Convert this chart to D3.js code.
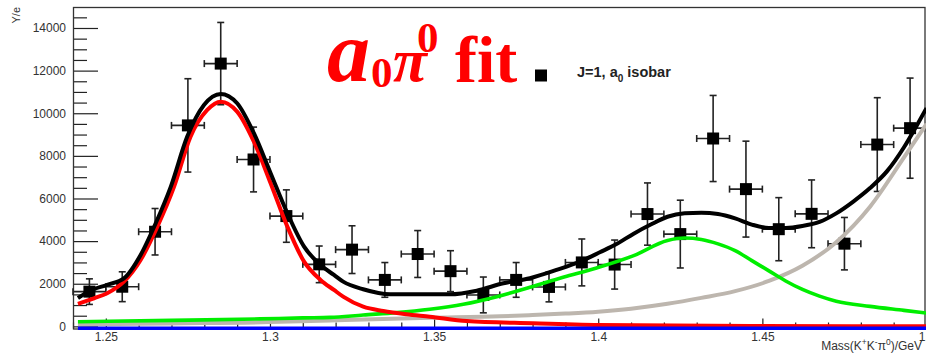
<!DOCTYPE html>
<html>
<head>
<meta charset="utf-8">
<script src="https://cdn.jsdelivr.net/npm/d3@7"></script>
<style>
  body { margin: 0; background: #fff; }
  svg { display: block; }
  .tick text { font-family: "Liberation Sans", Arial, sans-serif; font-size: 12px; fill: #333; }
  .tick line { stroke: #222; stroke-width: 1.2; }
</style>
</head>
<body>
<svg id="chart" width="926" height="359"></svg>
<script>

// data

var binCenters = [1.245, 1.255, 1.265, 1.275, 1.285, 1.295, 1.305, 1.315, 1.325, 1.335, 1.345, 1.355, 1.365,
                  1.375, 1.385, 1.395, 1.405, 1.415, 1.425, 1.435, 1.445, 1.455, 1.465, 1.475, 1.485, 1.495];
var counts = [1630, 1860, 4440, 9430, 12330, 7830, 5175, 2910, 3600, 2180, 3395, 2590, 1475,
              2180, 1850, 3000, 2900, 5270, 4330, 8815, 6440, 4560, 5280, 3880, 8530, 9300];
var errors = [600, 700, 1090, 2190, 1930, 1520, 1230, 860, 1120, 815, 1100, 960, 840,
              815, 700, 1100, 1150, 1460, 1590, 2020, 2250, 1480, 1590, 1230, 2200, 2350];
var binHalfWidth = 0.005;

// fit curves: [mass, value]
var totalFit = [[1.2415, 1330], [1.2449, 1650], [1.2504, 1950], [1.2555, 2250], [1.2606, 3350], [1.2652, 4838],
  [1.2698, 6556], [1.2748, 8903], [1.2799, 10390], [1.2850, 10906], [1.2900, 10470], [1.2951, 9062],
  [1.3002, 7185], [1.3053, 5308], [1.3104, 3740], [1.3154, 2881], [1.3195, 2412], [1.3223, 2098],
  [1.3284, 1742], [1.3366, 1506], [1.3548, 1506], [1.3630, 1675], [1.3711, 2023], [1.3792, 2257],
  [1.3873, 2647], [1.3944, 3036], [1.4005, 3478], [1.4057, 3872], [1.4108, 4350], [1.4160, 4777],
  [1.4211, 5143], [1.4263, 5303], [1.4314, 5331], [1.4365, 5270], [1.4417, 5064], [1.4468, 4777],
  [1.4520, 4618], [1.4571, 4618], [1.4622, 4712], [1.4674, 4904], [1.4725, 5303], [1.4777, 5857],
  [1.4828, 6490], [1.4880, 7283], [1.4931, 8391], [1.4973, 9500], [1.5, 10240]];

var a0Fit = [[1.2415, 1060], [1.2464, 1319], [1.2504, 1553], [1.2555, 2098], [1.2606, 3116], [1.2657, 4679],
  [1.2708, 6556], [1.2758, 8903], [1.2809, 10156], [1.2850, 10545], [1.2900, 10076], [1.2951, 8668],
  [1.3002, 6716], [1.3053, 4679], [1.3104, 3036], [1.3154, 2178], [1.3195, 1708], [1.3223, 1394],
  [1.3284, 925], [1.3345, 723], [1.3416, 568], [1.3487, 455], [1.3599, 253], [1.3801, 145],
  [1.4005, 66], [1.4462, 19], [1.5, 0]];

var greenFit = [[1.2415, 220], [1.27, 280], [1.297, 350], [1.31, 400], [1.3183, 420], [1.3284, 535],
  [1.3386, 643], [1.3487, 802], [1.3589, 1037], [1.3691, 1394], [1.3792, 1835], [1.3893, 2304],
  [1.3995, 2740], [1.4108, 3318], [1.4211, 4030], [1.4263, 4143], [1.4314, 4078], [1.4365, 3872],
  [1.4417, 3557], [1.4468, 3083], [1.4520, 2605], [1.4571, 2130], [1.4622, 1732], [1.4674, 1417],
  [1.4725, 1178], [1.4828, 939], [1.4931, 751], [1.5, 624]];

var grayFit = [[1.2415, 90], [1.27, 140], [1.30, 200], [1.3183, 280], [1.3487, 400], [1.37, 470],
  [1.38, 530], [1.39, 600], [1.40, 690], [1.41, 830], [1.4211, 1060], [1.4314, 1337], [1.4417, 1652],
  [1.4520, 2130], [1.4622, 2844], [1.4725, 3952], [1.4828, 5618], [1.4931, 7917], [1.5, 9500]];

var blueFit = [[1.2415, -90], [1.37, -90], [1.5, -90]];

var xMajorTicks = [1.25, 1.3, 1.35, 1.4, 1.45, 1.5];
var xMinorTicks = [1.24, 1.26, 1.27, 1.28, 1.29, 1.31, 1.32, 1.33, 1.34, 1.36, 1.37, 1.38, 1.39,
                   1.41, 1.42, 1.43, 1.44, 1.46, 1.47, 1.48, 1.49];
var yMajorTicks = [0, 2000, 4000, 6000, 8000, 10000, 12000, 14000];
var yMinorTicks = [500, 1000, 1500, 2500, 3000, 3500, 4500, 5000, 5500, 6500, 7000, 7500, 8500, 9000, 9500,
                   10500, 11000, 11500, 12500, 13000, 13500, 14500];

//SVG setup

var svg = d3.select("svg#chart"),
    plotL = 73, plotR = 926.5, plotT = 7, plotB = 328.5;

var x = d3.scaleLinear()
    .domain([1.24, 1.5])
    .range([plotL, plotR]);

var y = d3.scaleLinear()
    .domain([-100, 14985])
    .range([plotB, plotT]);

//axes

svg.append("g")
    .attr("class", "axisy")
    .attr("transform", "translate(" + plotL + ",0)")
    .call(d3.axisLeft(y).tickValues(yMinorTicks).tickSizeInner(-14).tickSizeOuter(0).tickFormat(""))
    .call(function(g) { g.select(".domain").remove(); });

svg.append("g")
    .attr("class", "axisy")
    .attr("transform", "translate(" + plotL + ",0)")
    .call(d3.axisLeft(y).tickValues(yMajorTicks).tickSizeInner(-25).tickSizeOuter(0).tickPadding(7)
        .tickFormat(d3.format("d")))
    .call(function(g) { g.select(".domain").remove(); });

svg.append("g")
    .attr("class", "axisx")
    .attr("transform", "translate(0," + plotB + ")")
    .call(d3.axisBottom(x).tickValues(xMinorTicks).tickSizeInner(-6).tickSizeOuter(0).tickFormat(""))
    .call(function(g) { g.select(".domain").remove(); });

svg.append("g")
    .attr("class", "axisx")
    .attr("transform", "translate(0," + plotB + ")")
    .call(d3.axisBottom(x).tickValues(xMajorTicks).tickSizeInner(-10).tickSizeOuter(0).tickPadding(3.5)
        .tickFormat(function(d) { return d3.format("")(d); }))
    .call(function(g) { g.select(".domain").remove(); });

//frame

svg.append("rect")
    .attr("x", plotL + 0.5)
    .attr("y", plotT + 0.5)
    .attr("width", 925 - plotL - 0.5)
    .attr("height", plotB - plotT)
    .attr("fill", "none")
    .attr("stroke", "#333")
    .attr("stroke-width", 1.3);

//data points with error bars

var pts = svg.append("g").attr("class", "points");

var pt = pts.selectAll("g")
  .data(binCenters)
  .enter().append("g");

pt.append("line")
    .attr("x1", function(d) { return x(d - binHalfWidth); })
    .attr("x2", function(d) { return x(d + binHalfWidth); })
    .attr("y1", function(d, i) { return y(counts[i]); })
    .attr("y2", function(d, i) { return y(counts[i]); });

pt.append("line")
    .attr("x1", function(d) { return x(d); })
    .attr("x2", function(d) { return x(d); })
    .attr("y1", function(d, i) { return y(counts[i] - errors[i]); })
    .attr("y2", function(d, i) { return y(counts[i] + errors[i]); });

// end caps
[-1, 1].forEach(function(s) {
  pt.append("line")
      .attr("x1", function(d) { return x(d + s * binHalfWidth); })
      .attr("x2", function(d) { return x(d + s * binHalfWidth); })
      .attr("y1", function(d, i) { return y(counts[i]) - 3.5; })
      .attr("y2", function(d, i) { return y(counts[i]) + 3.5; });
  pt.append("line")
      .attr("x1", function(d) { return x(d) - 3.5; })
      .attr("x2", function(d) { return x(d) + 3.5; })
      .attr("y1", function(d, i) { return y(counts[i] + s * errors[i]); })
      .attr("y2", function(d, i) { return y(counts[i] + s * errors[i]); });
});

pt.selectAll("line")
    .attr("stroke", "#222")
    .attr("stroke-width", 1.6);

pt.append("rect")
    .attr("x", function(d) { return x(d) - 6; })
    .attr("y", function(d, i) { return y(counts[i]) - 6; })
    .attr("width", 12)
    .attr("height", 12)
    .attr("fill", "#000");

//fit curves

var line = d3.line()
    .x(function(d) { return x(d[0]); })
    .y(function(d) { return y(d[1]); })
    .curve(d3.curveMonotoneX);

function drawCurve(data, color, w) {
  svg.append("path")
      .attr("d", line(data))
      .attr("fill", "none")
      .attr("stroke", color)
      .attr("stroke-width", w);
}

drawCurve(grayFit, "#bdb6ae", 4);
drawCurve(greenFit, "#00ee00", 3.6);
drawCurve(a0Fit, "#ff0000", 4);
drawCurve(totalFit, "#000", 4);
drawCurve(blueFit, "#0000ff", 3.6);

//axis titles

svg.append("text")
    .attr("transform", "translate(20," + plotT + ") rotate(-90)")
    .attr("text-anchor", "end")
    .attr("font-family", "Liberation Sans, Arial, sans-serif")
    .attr("font-size", "11px")
    .attr("fill", "#333")
    .text("Y/e");

var xt = svg.append("text")
    .attr("x", 922)
    .attr("y", 349.5)
    .attr("text-anchor", "end")
    .attr("font-family", "Liberation Sans, Arial, sans-serif")
    .attr("font-size", "12px")
    .attr("fill", "#333");
xt.append("tspan").text("Mass(K");
xt.append("tspan").attr("dy", -4.5).attr("font-size", "8.5px").text("+");
xt.append("tspan").attr("dy", 4.5).text("K");
xt.append("tspan").attr("dy", -4.5).attr("font-size", "8.5px").text("-");
xt.append("tspan").attr("dy", 4.5).text("\u03c0");
xt.append("tspan").attr("dy", -4.5).attr("font-size", "8.5px").text("0");
xt.append("tspan").attr("dy", 4.5).text(")/GeV");

//big red label

var serif = "Liberation Serif, Times New Roman, serif";
var title = svg.append("g").attr("fill", "#ff0000").attr("font-family", serif).attr("font-weight", "bold");
title.append("text").attr("x", 327).attr("y", 81).attr("font-size", "86px").attr("font-style", "italic").text("a");
title.append("text").attr("x", 371).attr("y", 86.5).attr("font-size", "43px").text("0");
title.append("text").attr("x", 393).attr("y", 81).attr("font-size", "62px").attr("font-style", "italic").text("\u03c0");
title.append("text").attr("x", 417).attr("y", 52).attr("font-size", "43px").text("0");
title.append("text").attr("x", 455).attr("y", 81.5).attr("font-size", "66px").text("fit");

//legend

svg.append("rect")
    .attr("x", 535)
    .attr("y", 69.5)
    .attr("width", 12)
    .attr("height", 12)
    .attr("fill", "#000");

var lg = svg.append("text")
    .attr("x", 577)
    .attr("y", 76.5)
    .attr("font-family", "Liberation Sans, Arial, sans-serif")
    .attr("font-size", "14.5px")
    .attr("font-weight", "bold")
    .attr("fill", "#222");
lg.append("tspan").text("J=1, a");
lg.append("tspan").attr("dy", 5).attr("font-size", "10px").text("0");
lg.append("tspan").attr("dy", -5).text(" isobar");

</script>
</body>
</html>
